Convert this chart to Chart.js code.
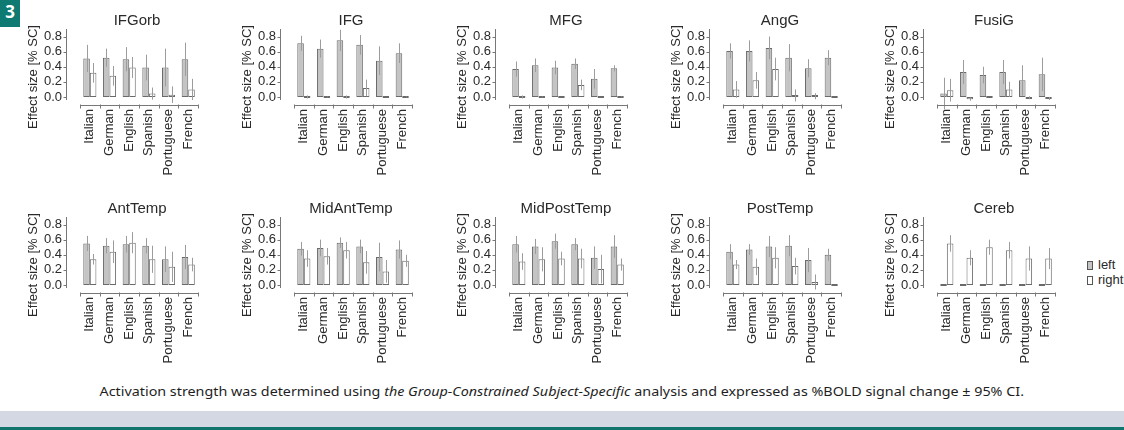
<!DOCTYPE html>
<html>
<head>
<meta charset="utf-8">
<script src="https://cdn.jsdelivr.net/npm/chart.js@4"></script>
<style>
  html, body { margin: 0; padding: 0; }
  body { width: 1124px; height: 430px; overflow: hidden; background: #fff; position: relative; font-family: "Liberation Sans", Arial, sans-serif; }
  canvas.panel { position: absolute; }
  #figNum { position: absolute; left: 0; top: 0; width: 20px; height: 27px; background: #0f7a71; color: #fff; font: bold 17px "Open Sans", sans-serif; line-height: 24px; text-align: center; z-index: 2; }
  #legend { position: absolute; left: 1087px; top: 257px; font-size: 13px; color: #2a2a2a; line-height: 15px; white-space: nowrap; }
  #legend .sw { display: inline-block; width: 4px; height: 7px; border: 1px solid #555; margin-right: 5px; vertical-align: -1px; }
  #caption { position: absolute; left: 0; top: 382px; width: 1124px; text-align: center; }
  #captionText { display: inline-block; font: 13px "Noto Sans", sans-serif; color: #1e1e1e; transform-origin: center; white-space: nowrap; }
  #band { position: absolute; left: 0; top: 411px; width: 1124px; height: 16px; background: #d3d8e3; }
  #rule { position: absolute; left: 0; top: 427px; width: 1124px; height: 3px; background: #12756d; }
</style>
</head>
<body>
<div id="figNum">3</div>
<div id="legend">
  <div><span class="sw" style="background:#c4c4c4"></span>left</div>
  <div><span class="sw" style="background:#fff"></span>right</div>
</div>
<div id="caption"><span id="captionText">Activation strength was determined using <i>the Group-Constrained Subject-Specific</i> analysis and expressed as %BOLD signal change ± 95% CI.</span></div>
<div id="band"></div>
<div id="rule"></div>
<script>
const languages = ['Italian', 'German', 'English', 'Spanish', 'Portuguese', 'French'];
const regions = ['IFGorb', 'IFG', 'MFG', 'AngG', 'FusiG', 'AntTemp', 'MidAntTemp', 'MidPostTemp', 'PostTemp', 'Cereb'];
const yTicks = [0, 0.2, 0.4, 0.6, 0.8];

// mean effect size per region (rows) and language (columns)
const leftMeans = [
  [0.51, 0.52, 0.50, 0.39, 0.39, 0.50],
  [0.71, 0.64, 0.75, 0.69, 0.48, 0.58],
  [0.37, 0.42, 0.39, 0.44, 0.24, 0.38],
  [0.61, 0.61, 0.65, 0.52, 0.38, 0.52],
  [0.045, 0.33, 0.29, 0.33, 0.22, 0.30],
  [0.55, 0.52, 0.54, 0.52, 0.34, 0.37],
  [0.48, 0.49, 0.56, 0.51, 0.37, 0.47],
  [0.54, 0.51, 0.58, 0.54, 0.36, 0.51],
  [0.44, 0.47, 0.51, 0.52, 0.33, 0.40],
  [0, 0, 0, 0, 0, 0]
];
// 95% CI half width
const leftCI = [
  [0.18, 0.12, 0.16, 0.17, 0.25, 0.22],
  [0.10, 0.12, 0.14, 0.13, 0.19, 0.13],
  [0.10, 0.09, 0.09, 0.07, 0.13, 0.04],
  [0.10, 0.14, 0.15, 0.18, 0.12, 0.10],
  [0.21, 0.16, 0.11, 0.16, 0.20, 0.22],
  [0.10, 0.10, 0.11, 0.10, 0.17, 0.16],
  [0.09, 0.11, 0.07, 0.09, 0.19, 0.12],
  [0.11, 0.10, 0.10, 0.08, 0.15, 0.15],
  [0.10, 0.07, 0.14, 0.14, 0.16, 0.08],
  [0, 0, 0, 0, 0, 0]
];
const rightMeans = [
  [0.32, 0.28, 0.39, 0.045, 0.03, 0.10],
  [0, 0, 0, 0.12, 0, 0],
  [0, 0, 0, 0.16, 0, 0],
  [0.10, 0.22, 0.37, 0.02, 0.01, 0],
  [0.09, -0.03, 0, 0.10, -0.01, -0.02],
  [0.34, 0.44, 0.56, 0.34, 0.24, 0.27],
  [0.35, 0.38, 0.46, 0.30, 0.18, 0.32],
  [0.31, 0.34, 0.35, 0.35, 0.21, 0.27],
  [0.27, 0.24, 0.36, 0.25, 0.04, 0],
  [0.55, 0.36, 0.50, 0.46, 0.35, 0.35]
];
const rightCI = [
  [0.13, 0.13, 0.14, 0.08, 0.11, 0.14],
  [0.02, 0.005, 0.02, 0.11, 0, 0.005],
  [0.02, 0.005, 0, 0.07, 0, 0.005],
  [0.11, 0.11, 0.15, 0.08, 0.04, 0],
  [0.15, 0.02, 0, 0.10, 0.02, 0.02],
  [0.07, 0.15, 0.14, 0.18, 0.20, 0.09],
  [0.11, 0.11, 0.11, 0.15, 0.15, 0.08],
  [0.11, 0.16, 0.09, 0.13, 0.19, 0.08],
  [0.06, 0.11, 0.14, 0.11, 0.10, 0],
  [0.11, 0.10, 0.10, 0.11, 0.16, 0.14]
];

const textColor = '#2a2a2a';
const axisColor = '#777';
const fontFamily = '"Liberation Sans", Arial, sans-serif';

// axes, error bars, titles drawn R-style
const panelDecor = {
  id: 'panelDecor',
  afterDatasetsDraw(chart, args, opts) {
    const ctx = chart.ctx;
    const area = chart.chartArea;
    const y = chart.scales.y;
    ctx.save();

    // error bars
    ctx.strokeStyle = '#9c9c9c';
    ctx.lineWidth = 1;
    chart.data.datasets.forEach((ds, di) => {
      const meta = chart.getDatasetMeta(di);
      meta.data.forEach((bar, j) => {
        const half = ds.ci[j];
        if (!half) return;
        const bx = Math.round(bar.x) + 0.5;
        ctx.beginPath();
        ctx.moveTo(bx, y.getPixelForValue(ds.data[j] - half));
        ctx.lineTo(bx, y.getPixelForValue(ds.data[j] + half));
        ctx.stroke();
      });
    });

    ctx.strokeStyle = axisColor;
    // y axis
    const ax = area.left - 14 + 0.5;
    ctx.beginPath();
    ctx.moveTo(ax, area.top);
    ctx.lineTo(ax, area.bottom);
    yTicks.forEach(v => {
      const py = Math.round(y.getPixelForValue(v)) + 0.5;
      ctx.moveTo(ax, py);
      ctx.lineTo(ax - 3, py);
    });
    ctx.stroke();

    // x axis with group ticks
    const ay = area.bottom + 5.5;
    ctx.beginPath();
    ctx.moveTo(area.left, ay);
    ctx.lineTo(area.right, ay);
    for (let i = 0; i <= languages.length; i++) {
      const px = Math.round(area.left + (area.right - area.left) * i / languages.length) + 0.5;
      ctx.moveTo(px, ay - 1);
      ctx.lineTo(px, ay + 3);
    }
    ctx.stroke();

    // title
    ctx.fillStyle = textColor;
    ctx.font = '15px ' + fontFamily;
    ctx.textAlign = 'center';
    ctx.textBaseline = 'middle';
    ctx.fillText(opts.title, area.left + 57, 21);

    // y axis label
    ctx.font = '13px ' + fontFamily;
    ctx.translate(area.left - 47, 77);
    ctx.rotate(-Math.PI / 2);
    ctx.fillText('Effect size [% SC]', 0, 0);
    ctx.restore();
  }
};

regions.forEach((name, i) => {
  const col = i % 5;
  const row = Math.floor(i / 5);
  const canvas = document.createElement('canvas');
  canvas.className = 'panel';
  canvas.width = 214;
  canvas.height = 185;
  canvas.style.left = Math.round(214.3 * col) + 'px';
  canvas.style.top = (row * 188) + 'px';
  document.body.appendChild(canvas);

  new Chart(canvas, {
    type: 'bar',
    data: {
      labels: languages,
      datasets: [
        { label: 'left', data: leftMeans[i], ci: leftCI[i], backgroundColor: '#c4c4c4', borderColor: '#6a6a6a' },
        { label: 'right', data: rightMeans[i], ci: rightCI[i], backgroundColor: '#ffffff', borderColor: '#6a6a6a' }
      ]
    },
    options: {
      responsive: false,
      animation: false,
      events: [],
      layout: { padding: { left: 0, right: 14, top: 29, bottom: 0 } },
      datasets: {
        bar: { borderWidth: 1, borderSkipped: false, minBarLength: 2, categoryPercentage: 2 / 3, barPercentage: 1 }
      },
      plugins: {
        legend: { display: false },
        tooltip: { enabled: false },
        title: { display: false },
        panelDecor: { title: name }
      },
      scales: {
        x: {
          grid: { display: false, drawTicks: false },
          border: { display: false },
          ticks: { autoSkip: false, minRotation: 90, maxRotation: 90, padding: 9, color: textColor, font: { size: 13, family: fontFamily } },
          afterFit(scale) { scale.height = 85; }
        },
        y: {
          min: -0.04,
          max: 0.9,
          grid: { display: false, drawTicks: false },
          border: { display: false },
          afterBuildTicks(scale) { scale.ticks = yTicks.map(v => ({ value: v })); },
          ticks: { autoSkip: false, padding: 18, color: textColor, font: { size: 13, family: fontFamily }, callback: v => v.toFixed(1) },
          afterFit(scale) { scale.width = 80; }
        }
      }
    },
    plugins: [panelDecor]
  });
});

// squeeze caption to the reference width
const cap = document.getElementById('captionText');
const capWidth = cap.getBoundingClientRect().width;
cap.style.transform = 'scaleX(' + (924 / capWidth).toFixed(3) + ')';
</script>
</body>
</html>
